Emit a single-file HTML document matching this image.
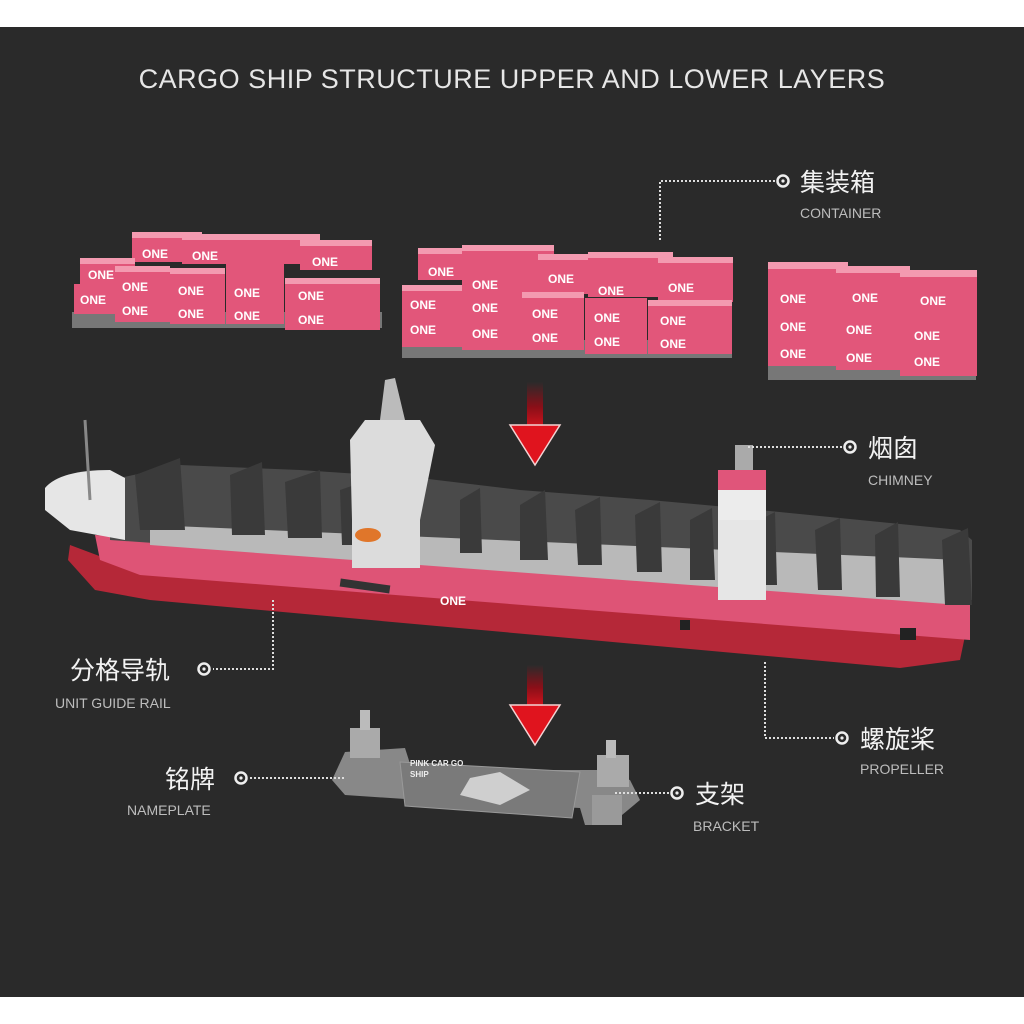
<!DOCTYPE html>
<html><head><meta charset="utf-8"><style>
html,body{margin:0;padding:0;background:#fff}
svg{display:block}
.cn{font-family:"Liberation Sans","Noto Sans CJK SC",sans-serif;fill:#f2f2f2;font-size:25px}
.en{font-family:"Liberation Sans",sans-serif;fill:#bdbdbd;font-size:14px}
.one{font-family:"Liberation Sans",sans-serif;fill:#fff;font-size:12px;font-weight:bold}
.dot{stroke:#ddd;stroke-width:2;stroke-dasharray:2 2;fill:none}
.c{fill:#e2567a}.t{fill:#f39ab0}.b{fill:#777}
</style></head><body>
<svg width="1024" height="1024" viewBox="0 0 1024 1024" xmlns="http://www.w3.org/2000/svg">
<defs>
<linearGradient id="ar" x1="0" y1="0" x2="0" y2="1"><stop offset="0" stop-color="#2b2b2b"/><stop offset="0.5" stop-color="#8a0f18"/><stop offset="1" stop-color="#e0141e"/></linearGradient>
</defs>
<rect x="0" y="27" width="1024" height="970" fill="#2a2a2a"/>
<text x="512" y="88" text-anchor="middle" font-family="Liberation Sans,sans-serif" font-size="27" fill="#e6e6e6" letter-spacing="0.5">CARGO SHIP STRUCTURE UPPER AND LOWER LAYERS</text>

<!-- containers group 1 -->
<g>
<rect x="72" y="312" width="310" height="16" class="b"/>
<rect x="132" y="232" width="70" height="30" class="c"/><rect x="132" y="232" width="70" height="6" class="t"/><text x="142" y="258" class="one">ONE</text>
<rect x="182" y="234" width="78" height="30" class="c"/><rect x="182" y="234" width="78" height="6" class="t"/><text x="192" y="260" class="one">ONE</text>
<rect x="230" y="234" width="90" height="30" class="c"/><rect x="230" y="234" width="90" height="6" class="t"/><text x="238" y="273" class="one">ONE</text>
<rect x="300" y="240" width="72" height="30" class="c"/><rect x="300" y="240" width="72" height="6" class="t"/><text x="312" y="266" class="one">ONE</text>
<rect x="80" y="258" width="55" height="30" class="c"/><rect x="80" y="258" width="55" height="6" class="t"/><text x="88" y="279" class="one">ONE</text>
<rect x="74" y="284" width="42" height="30" class="c"/><text x="80" y="304" class="one">ONE</text>
<rect x="115" y="266" width="55" height="56" class="c"/><rect x="115" y="266" width="55" height="6" class="t"/><text x="122" y="291" class="one">ONE</text><text x="122" y="315" class="one">ONE</text>
<rect x="170" y="268" width="55" height="56" class="c"/><rect x="170" y="268" width="55" height="6" class="t"/><text x="178" y="295" class="one">ONE</text><text x="178" y="318" class="one">ONE</text>
<rect x="226" y="262" width="58" height="62" class="c"/><text x="234" y="297" class="one">ONE</text><text x="234" y="320" class="one">ONE</text>
<rect x="285" y="278" width="95" height="52" class="c"/><rect x="285" y="278" width="95" height="6" class="t"/><text x="298" y="300" class="one">ONE</text><text x="298" y="324" class="one">ONE</text>
</g>
<!-- group 2 -->
<g>
<rect x="402" y="340" width="330" height="18" class="b"/>
<rect x="418" y="248" width="70" height="32" class="c"/><rect x="418" y="248" width="70" height="6" class="t"/><text x="428" y="276" class="one">ONE</text>
<rect x="462" y="245" width="92" height="50" class="c"/><rect x="462" y="245" width="92" height="6" class="t"/><text x="472" y="289" class="one">ONE</text>
<rect x="538" y="254" width="68" height="40" class="c"/><rect x="538" y="254" width="68" height="6" class="t"/><text x="548" y="283" class="one">ONE</text>
<rect x="588" y="252" width="85" height="45" class="c"/><rect x="588" y="252" width="85" height="6" class="t"/><text x="598" y="295" class="one">ONE</text>
<rect x="658" y="257" width="75" height="45" class="c"/><rect x="658" y="257" width="75" height="6" class="t"/><text x="668" y="292" class="one">ONE</text>
<rect x="402" y="285" width="60" height="62" class="c"/><rect x="402" y="285" width="60" height="6" class="t"/><text x="410" y="309" class="one">ONE</text><text x="410" y="334" class="one">ONE</text>
<rect x="462" y="292" width="60" height="58" class="c"/><text x="472" y="312" class="one">ONE</text><text x="472" y="338" class="one">ONE</text>
<rect x="522" y="292" width="62" height="58" class="c"/><rect x="522" y="292" width="62" height="6" class="t"/><text x="532" y="318" class="one">ONE</text><text x="532" y="342" class="one">ONE</text>
<rect x="585" y="298" width="62" height="56" class="c"/><text x="594" y="322" class="one">ONE</text><text x="594" y="346" class="one">ONE</text>
<rect x="648" y="300" width="84" height="54" class="c"/><rect x="648" y="300" width="84" height="6" class="t"/><text x="660" y="325" class="one">ONE</text><text x="660" y="348" class="one">ONE</text>
</g>
<!-- group 3 -->
<g>
<rect x="768" y="362" width="208" height="18" class="b"/>
<rect x="768" y="262" width="80" height="104" class="c"/><rect x="768" y="262" width="80" height="7" class="t"/><text x="780" y="303" class="one">ONE</text><text x="780" y="331" class="one">ONE</text><text x="780" y="358" class="one">ONE</text>
<rect x="836" y="266" width="74" height="104" class="c"/><rect x="836" y="266" width="74" height="7" class="t"/><text x="852" y="302" class="one">ONE</text><text x="846" y="334" class="one">ONE</text><text x="846" y="362" class="one">ONE</text>
<rect x="900" y="270" width="77" height="106" class="c"/><rect x="900" y="270" width="77" height="7" class="t"/><text x="920" y="305" class="one">ONE</text><text x="914" y="340" class="one">ONE</text><text x="914" y="366" class="one">ONE</text>
</g>

<!-- arrows -->
<rect x="527" y="382" width="16" height="50" fill="url(#ar)"/>
<polygon points="510,425 560,425 535,465" fill="#e0141e" stroke="#f3d3d3" stroke-width="1.5"/>
<rect x="527" y="665" width="16" height="45" fill="url(#ar)"/>
<polygon points="510,705 560,705 535,745" fill="#e0141e" stroke="#f3d3d3" stroke-width="1.5"/>

<!-- ship -->
<g>
<!-- red lower hull -->
<polygon points="70,545 110,560 970,612 960,660 900,668 150,600 95,590 68,560" fill="#b52838"/>
<!-- pink band -->
<polygon points="95,535 970,585 970,640 140,575 100,560" fill="#de5476"/>
<!-- grey deck walls -->
<polygon points="110,480 180,465 300,470 420,478 520,490 650,500 760,510 960,530 972,540 972,600 110,540" fill="#4a4a4a"/>
<polygon points="150,525 960,560 960,605 150,545" fill="#b9b9b9"/>
<g fill="#3a3a3a">
<polygon points="135,475 180,458 185,530 140,530"/>
<polygon points="230,475 262,462 265,535 232,535"/>
<polygon points="285,482 320,470 322,538 288,538"/>
<polygon points="340,490 375,478 378,545 342,545"/>
<polygon points="460,500 480,488 482,553 460,553"/>
<polygon points="520,505 545,490 548,560 520,560"/>
<polygon points="575,510 600,497 602,565 578,565"/>
<polygon points="635,515 660,502 662,572 637,572"/>
<polygon points="690,520 712,508 715,580 690,580"/>
<polygon points="750,525 775,512 777,585 752,585"/>
<polygon points="815,530 840,518 842,590 818,590"/>
<polygon points="875,535 898,522 900,597 876,597"/>
<polygon points="942,540 968,528 972,605 945,605"/>
</g>
<!-- bow white -->
<path d="M45,488 Q60,470 110,470 L125,478 L125,540 L70,530 L45,510 Z" fill="#e6e6e6"/>
<line x1="85" y1="420" x2="90" y2="500" stroke="#888" stroke-width="3"/>
<!-- bridge -->
<polygon points="350,440 365,420 420,420 435,445 420,520 420,568 352,568 352,520" fill="#dcdcdc"/>
<polygon points="385,380 395,378 405,420 380,420" fill="#bbb"/>
<ellipse cx="368" cy="535" rx="13" ry="7" fill="#e0762a"/>
<!-- chimney/ aft house -->
<rect x="718" y="470" width="48" height="20" fill="#e0557a"/>
<rect x="718" y="490" width="48" height="30" fill="#ececec"/>
<rect x="718" y="520" width="48" height="80" fill="#e6e6e6"/>
<rect x="735" y="445" width="18" height="25" fill="#aaa"/>
<text x="440" y="605" class="one">ONE</text>
<rect x="340" y="582" width="50" height="8" fill="#333" transform="rotate(8 365 586)"/>
<rect x="680" y="620" width="10" height="10" fill="#222"/>
<rect x="900" y="628" width="16" height="12" fill="#222"/>
</g>

<!-- bracket -->
<g>
<polygon points="345,752 405,748 412,770 600,770 630,780 640,800 610,825 585,825 580,808 420,800 345,795 332,780" fill="#888"/>
<polygon points="400,762 580,772 572,818 405,806" fill="#7a7a7a" stroke="#999"/>
<text x="410" y="766" font-family="Liberation Sans,sans-serif" font-size="8" font-weight="bold" fill="#eee">PINK CAR GO</text>
<text x="410" y="777" font-family="Liberation Sans,sans-serif" font-size="8" font-weight="bold" fill="#eee">SHIP</text>
<path d="M460,795 L470,778 L500,772 L530,790 L500,805 Z" fill="#cfcfcf"/>
<rect x="350" y="728" width="30" height="30" fill="#aaa"/><rect x="360" y="710" width="10" height="20" fill="#bbb"/>
<rect x="597" y="755" width="32" height="32" fill="#aaa"/><rect x="606" y="740" width="10" height="18" fill="#bbb"/>
<rect x="592" y="795" width="30" height="30" fill="#9a9a9a"/>
</g>

<!-- labels -->
<path class="dot" d="M660,240 V181 H775"/>
<circle cx="783" cy="181" r="5.5" fill="none" stroke="#eee" stroke-width="2.5"/><circle cx="783" cy="181" r="1.6" fill="#eee"/>
<text x="800" y="191" class="cn">集装箱</text><text x="800" y="218" class="en">CONTAINER</text>

<path class="dot" d="M748,447 H842"/>
<circle cx="850" cy="447" r="5.5" fill="none" stroke="#eee" stroke-width="2.5"/><circle cx="850" cy="447" r="1.6" fill="#eee"/>
<text x="868" y="457" class="cn">烟囱</text><text x="868" y="485" class="en">CHIMNEY</text>

<path class="dot" d="M273,600 V669 H213"/>
<circle cx="204" cy="669" r="5.5" fill="none" stroke="#eee" stroke-width="2.5"/><circle cx="204" cy="669" r="1.6" fill="#eee"/>
<text x="70" y="679" class="cn">分格导轨</text><text x="55" y="708" class="en">UNIT GUIDE RAIL</text>

<path class="dot" d="M765,662 V738 H834"/>
<circle cx="842" cy="738" r="5.5" fill="none" stroke="#eee" stroke-width="2.5"/><circle cx="842" cy="738" r="1.6" fill="#eee"/>
<text x="860" y="748" class="cn">螺旋桨</text><text x="860" y="774" class="en">PROPELLER</text>

<path class="dot" d="M250,778 H345"/>
<circle cx="241" cy="778" r="5.5" fill="none" stroke="#eee" stroke-width="2.5"/><circle cx="241" cy="778" r="1.6" fill="#eee"/>
<text x="165" y="788" class="cn">铭牌</text><text x="127" y="815" class="en">NAMEPLATE</text>

<path class="dot" d="M615,793 H669"/>
<circle cx="677" cy="793" r="5.5" fill="none" stroke="#eee" stroke-width="2.5"/><circle cx="677" cy="793" r="1.6" fill="#eee"/>
<text x="695" y="803" class="cn">支架</text><text x="693" y="831" class="en">BRACKET</text>
</svg>
</body></html>
